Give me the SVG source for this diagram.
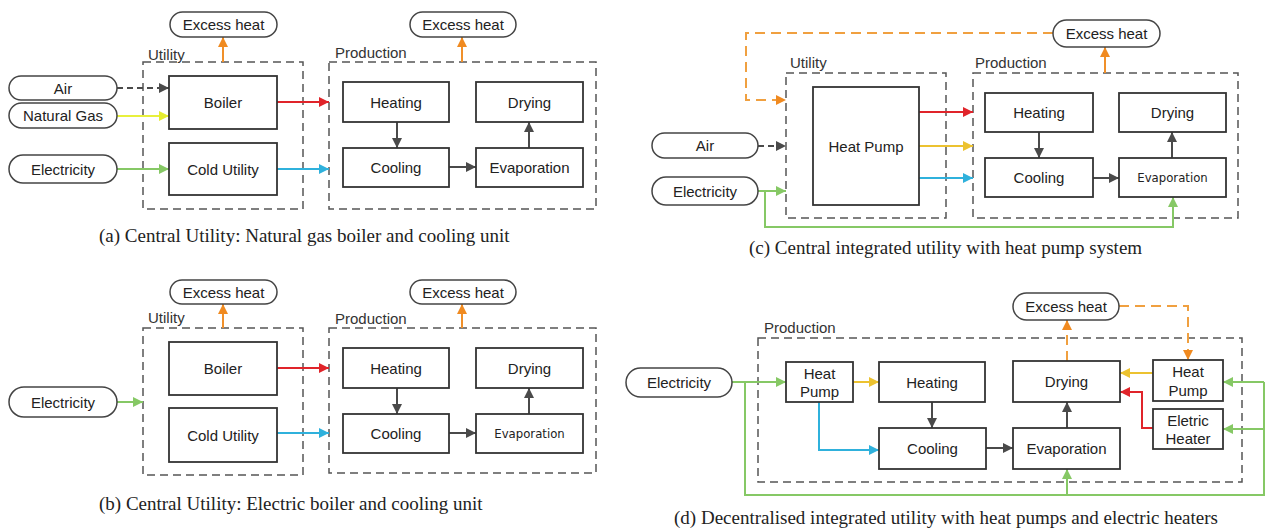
<svg xmlns="http://www.w3.org/2000/svg" width="1266" height="531" viewBox="0 0 1266 531">
<style>
.bg{fill:#ffffff}
.box{fill:#ffffff;stroke:#333333;stroke-width:1.8}
.pill{fill:#ffffff;stroke:#444444;stroke-width:1.5}
.grp{fill:none;stroke:#555555;stroke-width:1.5;stroke-dasharray:8 5}
.t{font-family:"Liberation Sans",Arial,sans-serif;font-size:15px;fill:#222222;text-anchor:middle;dominant-baseline:central}
.ts{font-family:"DejaVu Sans Condensed","Liberation Sans",sans-serif;font-size:13px;fill:#222222;text-anchor:middle;dominant-baseline:central}
.lbl{font-family:"Liberation Sans",Arial,sans-serif;font-size:15px;fill:#333333;dominant-baseline:central}
.cap{font-family:"Liberation Serif","Times New Roman",serif;font-size:19px;fill:#222222}
.c{fill:none;stroke-width:2}
.dk{stroke:#4a4a4a}
.dkd{stroke:#4a4a4a;stroke-dasharray:6 4}
.rd{stroke:#e0242a}
.yl{stroke:#e8f03c}
.gd{stroke:#ecc230}
.bl{stroke:#2fb1dc}
.gn{stroke:#86c865}
.or{stroke:#f0902a}
.ord{stroke:#f0a040;stroke-dasharray:10 6}
</style>
<defs>
<marker id="m-dk" viewBox="0 0 10 10" refX="10" refY="5" markerWidth="11" markerHeight="10" markerUnits="userSpaceOnUse" orient="auto"><path d="M0,0 L10,5 L0,10 z" fill="#4a4a4a"/></marker>
<marker id="m-rd" viewBox="0 0 10 10" refX="10" refY="5" markerWidth="11" markerHeight="10" markerUnits="userSpaceOnUse" orient="auto"><path d="M0,0 L10,5 L0,10 z" fill="#e0242a"/></marker>
<marker id="m-yl" viewBox="0 0 10 10" refX="10" refY="5" markerWidth="11" markerHeight="10" markerUnits="userSpaceOnUse" orient="auto"><path d="M0,0 L10,5 L0,10 z" fill="#e4ec30"/></marker>
<marker id="m-gd" viewBox="0 0 10 10" refX="10" refY="5" markerWidth="11" markerHeight="10" markerUnits="userSpaceOnUse" orient="auto"><path d="M0,0 L10,5 L0,10 z" fill="#ecc230"/></marker>
<marker id="m-bl" viewBox="0 0 10 10" refX="10" refY="5" markerWidth="11" markerHeight="10" markerUnits="userSpaceOnUse" orient="auto"><path d="M0,0 L10,5 L0,10 z" fill="#2fb1dc"/></marker>
<marker id="m-gn" viewBox="0 0 10 10" refX="10" refY="5" markerWidth="11" markerHeight="10" markerUnits="userSpaceOnUse" orient="auto"><path d="M0,0 L10,5 L0,10 z" fill="#86c865"/></marker>
<marker id="m-or" viewBox="0 0 10 10" refX="10" refY="5" markerWidth="11" markerHeight="10" markerUnits="userSpaceOnUse" orient="auto"><path d="M0,0 L10,5 L0,10 z" fill="#f08a20"/></marker>
</defs>
<rect class="bg" x="0" y="0" width="1266" height="531"/>

<!-- group frames -->
<g id="groups">
<rect class="grp" x="143" y="62" width="160" height="147"/>
<text class="lbl" x="148" y="54">Utility</text>
<rect class="grp" x="329" y="62" width="267" height="147"/>
<text class="lbl" x="335" y="52">Production</text>
<rect class="grp" x="143" y="328" width="160" height="147"/>
<text class="lbl" x="148" y="317">Utility</text>
<rect class="grp" x="329" y="328" width="267" height="145"/>
<text class="lbl" x="335" y="318">Production</text>
<rect class="grp" x="786" y="73" width="160" height="145"/>
<text class="lbl" x="790" y="62">Utility</text>
<rect class="grp" x="973" y="73" width="265" height="145"/>
<text class="lbl" x="975" y="62">Production</text>
<rect class="grp" x="758" y="338" width="484" height="144"/>
<text class="lbl" x="764" y="327">Production</text>
</g>

<!-- connectors -->
<g id="connectors">
<!-- (a) -->
<path class="c dkd" d="M117,88 H169" marker-end="url(#m-dk)"/>
<path class="c yl" d="M117,116 H169" marker-end="url(#m-yl)"/>
<path class="c gn" d="M117,169 H169" marker-end="url(#m-gn)"/>
<path class="c rd" d="M277,102 H329" marker-end="url(#m-rd)"/>
<path class="c bl" d="M277,169 H329" marker-end="url(#m-bl)"/>
<path class="c or" d="M223,62 V37" marker-end="url(#m-or)"/>
<path class="c or" d="M462,62 V37" marker-end="url(#m-or)"/>
<path class="c dk" d="M397,122 V148" marker-end="url(#m-dk)"/>
<path class="c dk" d="M449,167 H476" marker-end="url(#m-dk)"/>
<path class="c dk" d="M529,148 V122" marker-end="url(#m-dk)"/>
<!-- (b) -->
<path class="c gn" d="M117,402 H143" marker-end="url(#m-gn)"/>
<path class="c rd" d="M277,368 H329" marker-end="url(#m-rd)"/>
<path class="c bl" d="M277,433 H329" marker-end="url(#m-bl)"/>
<path class="c or" d="M223,328 V304" marker-end="url(#m-or)"/>
<path class="c or" d="M462,328 V304" marker-end="url(#m-or)"/>
<path class="c dk" d="M397,388 V414" marker-end="url(#m-dk)"/>
<path class="c dk" d="M449,433 H476" marker-end="url(#m-dk)"/>
<path class="c dk" d="M529,414 V388" marker-end="url(#m-dk)"/>
<!-- (c) -->
<path class="c ord" d="M1053,33 H746 V100 H786" marker-end="url(#m-or)"/>
<path class="c or" d="M1105,73 V47" marker-end="url(#m-or)"/>
<path class="c dkd" d="M758,146 H786" marker-end="url(#m-dk)"/>
<path class="c gn" d="M758,191 H786" marker-end="url(#m-gn)"/>
<path class="c gn" d="M765,191 V227 H1173 V197" marker-end="url(#m-gn)"/>
<path class="c rd" d="M919,112 H973" marker-end="url(#m-rd)"/>
<path class="c gd" d="M919,146 H973" marker-end="url(#m-gd)"/>
<path class="c bl" d="M919,178 H973" marker-end="url(#m-bl)"/>
<path class="c dk" d="M1039,132 V158" marker-end="url(#m-dk)"/>
<path class="c dk" d="M1093,178 H1119" marker-end="url(#m-dk)"/>
<path class="c dk" d="M1172,158 V132" marker-end="url(#m-dk)"/>
<!-- (d) -->
<path class="c gn" d="M732,382 H786" marker-end="url(#m-gn)"/>
<path class="c gn" d="M745,382 V495 H1264 V382"/>
<path class="c gn" d="M1264,382 H1223" marker-end="url(#m-gn)"/>
<path class="c gn" d="M1264,429 H1223" marker-end="url(#m-gn)"/>
<path class="c gn" d="M1067,495 V469" marker-end="url(#m-gn)"/>
<path class="c gd" d="M853,382 H879" marker-end="url(#m-gd)"/>
<path class="c bl" d="M819,402 V450 H879" marker-end="url(#m-bl)"/>
<path class="c dk" d="M932,402 V428" marker-end="url(#m-dk)"/>
<path class="c dk" d="M986,448 H1013" marker-end="url(#m-dk)"/>
<path class="c dk" d="M1067,428 V402" marker-end="url(#m-dk)"/>
<path class="c gd" d="M1153,373 H1120" marker-end="url(#m-gd)"/>
<path class="c rd" d="M1153,428 H1142 V392 H1120" marker-end="url(#m-rd)"/>
<path class="c ord" d="M1067,361 V320" marker-end="url(#m-or)"/>
<path class="c ord" d="M1119,306 H1188 V360" marker-end="url(#m-or)"/>
</g>

<!-- (a) nodes -->
<g id="a-excess-util"><rect class="pill" x="170" y="12" width="107" height="25" rx="12.5"/><text class="t" x="223.5" y="24.5">Excess heat</text></g>
<g id="a-excess-prod"><rect class="pill" x="410" y="12" width="106" height="25" rx="12.5"/><text class="t" x="463" y="24.5">Excess heat</text></g>
<g id="a-air"><rect class="pill" x="9" y="76" width="108" height="24" rx="12"/><text class="t" x="63" y="88">Air</text></g>
<g id="a-gas"><rect class="pill" x="9" y="103" width="108" height="25" rx="12.5"/><text class="t" x="63" y="115.5">Natural Gas</text></g>
<g id="a-elec"><rect class="pill" x="9" y="155" width="108" height="28" rx="14"/><text class="t" x="63" y="169">Electricity</text></g>
<g id="a-boiler"><rect class="box" x="169" y="76" width="108" height="53"/><text class="t" x="223" y="102.5">Boiler</text></g>
<g id="a-cold"><rect class="box" x="169" y="143" width="108" height="52"/><text class="t" x="223" y="169">Cold Utility</text></g>
<g id="a-heating"><rect class="box" x="343" y="82" width="106" height="40"/><text class="t" x="396" y="102">Heating</text></g>
<g id="a-drying"><rect class="box" x="476" y="82" width="107" height="40"/><text class="t" x="529.5" y="102">Drying</text></g>
<g id="a-cooling"><rect class="box" x="343" y="148" width="106" height="39"/><text class="t" x="396" y="167.5">Cooling</text></g>
<g id="a-evap"><rect class="box" x="476" y="148" width="107" height="39"/><text class="t" x="529.5" y="167.5">Evaporation</text></g>
<text class="cap" x="99" y="242">(a) Central Utility: Natural gas boiler and cooling unit</text>

<!-- (b) nodes -->
<g id="b-excess-util"><rect class="pill" x="170" y="280" width="107" height="24" rx="12"/><text class="t" x="223.5" y="292">Excess heat</text></g>
<g id="b-excess-prod"><rect class="pill" x="410" y="280" width="106" height="24" rx="12"/><text class="t" x="463" y="292">Excess heat</text></g>
<g id="b-elec"><rect class="pill" x="9" y="387" width="108" height="30" rx="15"/><text class="t" x="63" y="402">Electricity</text></g>
<g id="b-boiler"><rect class="box" x="169" y="342" width="108" height="53"/><text class="t" x="223" y="368.5">Boiler</text></g>
<g id="b-cold"><rect class="box" x="169" y="408" width="108" height="54"/><text class="t" x="223" y="435">Cold Utility</text></g>
<g id="b-heating"><rect class="box" x="343" y="348" width="106" height="40"/><text class="t" x="396" y="368">Heating</text></g>
<g id="b-drying"><rect class="box" x="476" y="348" width="107" height="40"/><text class="t" x="529.5" y="368">Drying</text></g>
<g id="b-cooling"><rect class="box" x="343" y="414" width="106" height="39"/><text class="t" x="396" y="433.5">Cooling</text></g>
<g id="b-evap"><rect class="box" x="476" y="414" width="107" height="39"/><text class="ts" x="529.5" y="433.5">Evaporation</text></g>
<text class="cap" x="99" y="510">(b) Central Utility: Electric boiler and cooling unit</text>

<!-- (c) nodes -->
<g id="c-excess"><rect class="pill" x="1053" y="20" width="107" height="27" rx="13.5"/><text class="t" x="1106.5" y="33.5">Excess heat</text></g>
<g id="c-air"><rect class="pill" x="652" y="133" width="106" height="25" rx="12.5"/><text class="t" x="705" y="145.5">Air</text></g>
<g id="c-elec"><rect class="pill" x="652" y="177" width="106" height="28" rx="14"/><text class="t" x="705" y="191">Electricity</text></g>
<g id="c-hp"><rect class="box" x="813" y="87" width="106" height="118"/><text class="t" x="866" y="146">Heat Pump</text></g>
<g id="c-heating"><rect class="box" x="985" y="93" width="108" height="39"/><text class="t" x="1039" y="112.5">Heating</text></g>
<g id="c-drying"><rect class="box" x="1119" y="93" width="107" height="39"/><text class="t" x="1172.5" y="112.5">Drying</text></g>
<g id="c-cooling"><rect class="box" x="985" y="158" width="108" height="39"/><text class="t" x="1039" y="177.5">Cooling</text></g>
<g id="c-evap"><rect class="box" x="1119" y="158" width="107" height="39"/><text class="ts" x="1172.5" y="177.5">Evaporation</text></g>
<text class="cap" x="749" y="254">(c) Central integrated utility with heat pump system</text>

<!-- (d) nodes -->
<g id="d-elec"><rect class="pill" x="626" y="368" width="106" height="29" rx="14.5"/><text class="t" x="679" y="382.5">Electricity</text></g>
<g id="d-hp-left"><rect class="box" x="786" y="362" width="67" height="40"/><text class="t" x="819.5" y="373">Heat</text><text class="t" x="819.5" y="391">Pump</text></g>
<g id="d-heating"><rect class="box" x="879" y="362" width="106" height="40"/><text class="t" x="932" y="382">Heating</text></g>
<g id="d-cooling"><rect class="box" x="879" y="428" width="107" height="41"/><text class="t" x="932.5" y="448.5">Cooling</text></g>
<g id="d-drying"><rect class="box" x="1013" y="361" width="107" height="41"/><text class="t" x="1066.5" y="381.5">Drying</text></g>
<g id="d-evap"><rect class="box" x="1013" y="428" width="107" height="41"/><text class="t" x="1066.5" y="448.5">Evaporation</text></g>
<g id="d-hp-right"><rect class="box" x="1153" y="360" width="70" height="41"/><text class="t" x="1188" y="371">Heat</text><text class="t" x="1188" y="390">Pump</text></g>
<g id="d-heater"><rect class="box" x="1153" y="409" width="70" height="40"/><text class="t" x="1188" y="420">Eletric</text><text class="t" x="1188" y="438">Heater</text></g>
<g id="d-excess"><rect class="pill" x="1013" y="293" width="106" height="27" rx="13.5"/><text class="t" x="1066" y="306.5">Excess heat</text></g>
<text class="cap" x="674" y="524">(d) Decentralised integrated utility with heat pumps and electric heaters</text>
</svg>
